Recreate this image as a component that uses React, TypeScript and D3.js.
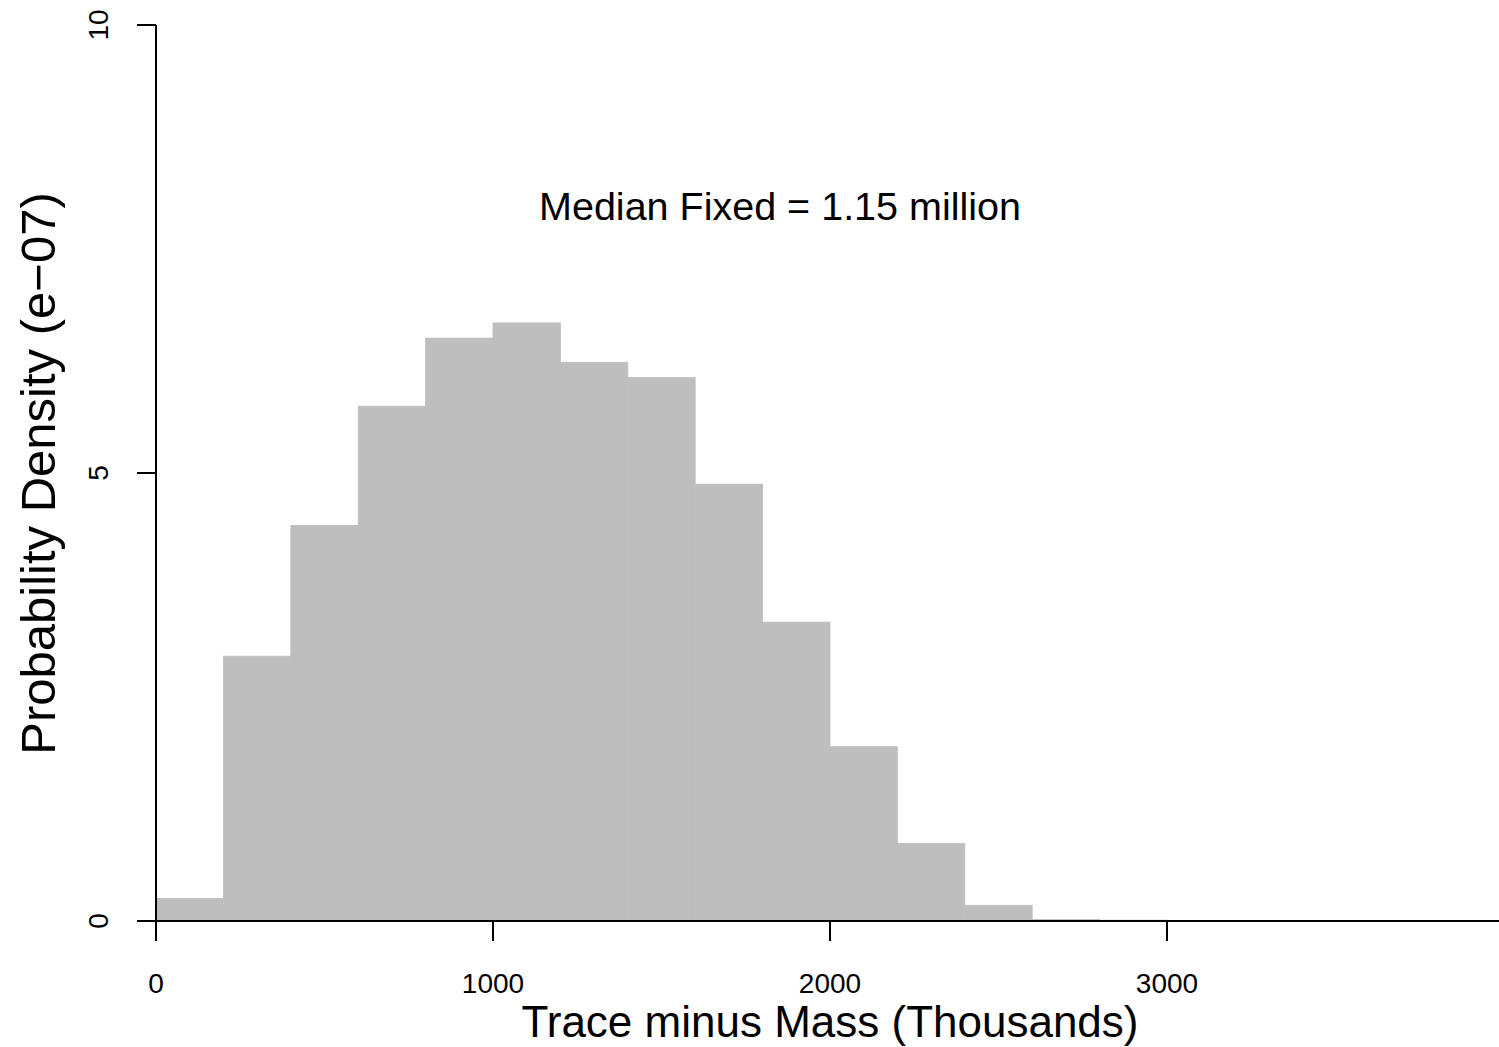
import React from "react";
import * as d3 from "d3";

const binEdges = [0, 200, 400, 600, 800, 1000, 1200, 1400, 1600, 1800, 2000, 2200, 2400, 2600, 2800, 3000, 3200, 3400, 3600, 3800, 4000];
const densities = [0.245, 2.95, 4.41, 5.74, 6.5, 6.67, 6.23, 6.06, 4.87, 3.33, 1.94, 0.86, 0.17, 0.012, 0.004, 0, 0, 0, 0, 0];
const xTicks = [0, 1000, 2000, 3000];
const yTicks = [0, 5, 10];
const xTitle = "Trace minus Mass (Thousands)";
const yTitle = "Probability Density (e\u221207)";
const annotation = "Median Fixed = 1.15 million";

const W = 1499;
const H = 1047;
const FONT = "'Liberation Sans', Arial, sans-serif";

export default function App() {
  const x = d3.scaleLinear().domain([0, 3000]).range([156, 1167]);
  const y = d3.scaleLinear().domain([0, 10]).range([921, 25]);
  const bars = densities.map((d, i) => ({ x0: binEdges[i], x1: binEdges[i + 1], d }));
  return (
    <svg width={W} height={H} style={{ position: "absolute", left: 0, top: 0, background: "#fff" }} fontFamily={FONT}>
      {bars.map((b, i) => (
        <rect
          key={i}
          x={x(b.x0)}
          y={y(b.d) - 0.5}
          width={x(b.x1) - x(b.x0)}
          height={Math.max(0, y(0) - y(b.d)) + 0.5}
          fill="#bebebe"
          stroke="#bebebe"
          strokeWidth={0.8}
        />
      ))}
      <line x1={137} x2={W} y1={y(0)} y2={y(0)} stroke="#000" strokeWidth={2} />
      <line x1={x(0)} x2={x(0)} y1={y(10)} y2={y(0) + 20} stroke="#000" strokeWidth={2} />
      {yTicks.map((t) => (
        <g key={t}>
          <line x1={x(0) - 19} x2={x(0)} y1={y(t)} y2={y(t)} stroke="#000" strokeWidth={2} />
          <text transform={`translate(108, ${y(t)}) rotate(-90)`} textAnchor="middle" fontSize={28}>
            {t}
          </text>
        </g>
      ))}
      {xTicks.map((t) => (
        <g key={t}>
          <line x1={x(t)} x2={x(t)} y1={y(0)} y2={y(0) + 20} stroke="#000" strokeWidth={2} />
          <text x={x(t)} y={993} textAnchor="middle" fontSize={28}>
            {t}
          </text>
        </g>
      ))}
      <text x={830} y={1037} textAnchor="middle" fontSize={44}>
        {xTitle}
      </text>
      <text transform={`translate(55, 473.5) rotate(-90)`} textAnchor="middle" fontSize={49}>
        {yTitle}
      </text>
      <text x={780} y={220} textAnchor="middle" fontSize={39.5}>
        {annotation}
      </text>
    </svg>
  );
}
